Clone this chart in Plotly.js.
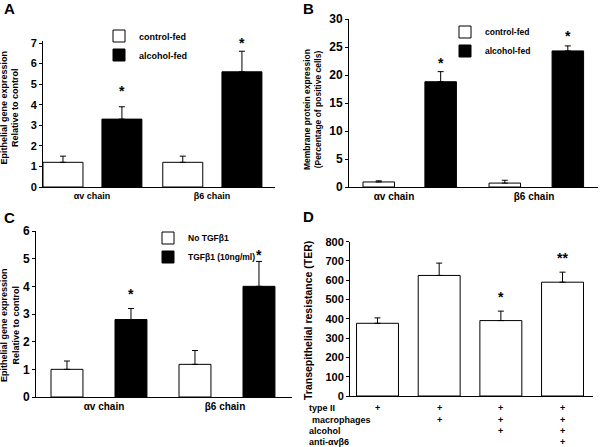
<!DOCTYPE html>
<html>
<head>
<meta charset="utf-8">
<script src="https://cdn.plot.ly/plotly-3.0.1.min.js"></script>
<style>html,body{margin:0;padding:0;background:#fff}#chart{width:600px;height:447px}</style>
</head>
<body>
<div id="chart"></div>
<script>
// ---------- data ----------
const chainCats = ['αv chain', 'β6 chain'];

// Panel A
const aControl = [1.2, 1.2];
const aControlErr = [0.3, 0.3];
const aAlcohol = [3.3, 5.6];
const aAlcoholErr = [0.6, 1.0];
const aStarY = [4.72, 7.03];

// Panel B
const bControl = [0.9, 0.7];
const bControlErr = [0.2, 0.5];
const bAlcohol = [18.8, 24.3];
const bAlcoholErr = [1.8, 0.9];
const bStarY = [22.4, 27.1];

// Panel C
const cNoTgf = [1.0, 1.18];
const cNoTgfErr = [0.3, 0.5];
const cTgf = [2.8, 4.0];
const cTgfErr = [0.4, 0.9];
const cStarY = [3.75, 5.17];

// Panel D
const dCats = ['I', 'II', 'III', 'IV'];
const dTer = [377, 625, 391, 590];
const dTerErr = [28, 64, 49, 52];
const dStars = ['', '', '*', '**'];
const dStarY = [null, null, 521, 720];
const dRows = ['type II', ' macrophages', 'alcohol', 'anti-αvβ6'];
const dFlags = [
  [1, 1, 1, 1],
  [0, 1, 1, 1],
  [0, 0, 1, 1],
  [0, 0, 0, 1]
];

// ---------- style ----------
const FAM = 'Liberation Sans, Arial, Helvetica, sans-serif';
const W = 600, H = 447;
const px = v => v / W;
const py = v => (H - v) / H;
const bold = (size) => ({family: FAM, size: size, color: '#000', weight: 'bold'});

function errUp(arr) {
  return {type: 'data', array: arr, arrayminus: arr.map(() => 0), symmetric: false,
          color: '#000', thickness: 1, width: 3};
}
function barTrace(x, y, err, fill, name, xa, ya, width, offset, legend, show) {
  return {type: 'bar', x: x, y: y, name: name, xaxis: xa, yaxis: ya,
    width: width, offset: offset,
    marker: {color: fill, line: {color: '#000', width: 1}},
    error_y: errUp(err), legend: legend, showlegend: show, hoverinfo: 'skip'};
}

function xAxis(domain, range, anchor, showLabels, fs) {
  return {domain: domain, range: range, anchor: anchor, type: 'category',
    showline: true, linecolor: '#000', linewidth: 1, ticks: '', showgrid: false, zeroline: false,
    showticklabels: showLabels, tickfont: bold(fs), fixedrange: true};
}
function yAxis(domain, range, dtick, anchor, fs) {
  return {domain: domain, range: range, dtick: dtick, tick0: 0, anchor: anchor,
    showline: true, linecolor: '#000', linewidth: 1, ticks: 'outside', ticklen: 3, tickwidth: 1,
    tickcolor: '#000', showgrid: false, zeroline: false, tickfont: bold(fs), fixedrange: true};
}

const xaxis = xAxis([px(43), px(275)], [-0.408, 1.525], 'y', true, 9);
const xaxis2 = xAxis([px(349), px(598)], [-0.321, 1.457], 'y2', true, 10);
const xaxis3 = xAxis([px(36), px(292)], [-0.562, 1.554], 'y3', true, 10);
const xaxis4 = xAxis([px(350), px(593)], [-0.446, 3.494], 'y4', false, 9);

const traces = [
  barTrace(chainCats, aControl, aControlErr, '#fff', 'control-fed', 'x', 'y', 0.333, [-0.408, -0.41], 'legend', true),
  barTrace(chainCats, aAlcohol, aAlcoholErr, '#000', 'alcohol-fed', 'x', 'y', 0.333, [0.083, 0.083], 'legend', true),
  barTrace(chainCats, bControl, bControlErr, '#fff', 'control-fed', 'x2', 'y2', 0.225, [-0.221, -0.321], 'legend2', true),
  barTrace(chainCats, bAlcohol, bAlcoholErr, '#000', 'alcohol-fed', 'x2', 'y2', 0.225, [0.221, 0.129], 'legend2', true),
  barTrace(chainCats, cNoTgf, cNoTgfErr, '#fff', 'No TGFβ1', 'x3', 'y3', 0.264, [-0.438, -0.380], 'legend3', true),
  barTrace(chainCats, cTgf, cTgfErr, '#000', 'TGFβ1 (10ng/ml)', 'x3', 'y3', 0.264, [0.091, 0.149], 'legend3', true),
  barTrace(dCats, dTer, dTerErr, '#fff', 'TER', 'x4', 'y4', 0.68, -0.34, 'legend', false)
];

const annotations = [];
// significance stars, centred on the bar of the trace they belong to
function starsFor(trace, ax, starY, xa, ya) {
  const pxUnit = (ax.domain[1] - ax.domain[0]) * W / (ax.range[1] - ax.range[0]);
  trace.x.forEach((c, i) => {
    const off = Array.isArray(trace.offset) ? trace.offset[i] : trace.offset;
    annotations.push({xref: xa, yref: ya, x: c, y: starY[i], text: '*', showarrow: false,
      font: bold(14), yanchor: 'middle', xanchor: 'center', yshift: -1,
      xshift: (off + trace.width / 2) * pxUnit});
  });
}
starsFor(traces[1], xaxis, aStarY, 'x', 'y');
starsFor(traces[3], xaxis2, bStarY, 'x2', 'y2');
starsFor(traces[5], xaxis3, cStarY, 'x3', 'y3');
dCats.forEach((c, i) => {
  if (dStars[i]) annotations.push({xref: 'x4', yref: 'y4', x: c, y: dStarY[i], text: dStars[i],
    showarrow: false, font: bold(14), yanchor: 'middle', xanchor: 'center', yshift: -1});
});

function ytitle(x, y, text, fs) {
  annotations.push({xref: 'paper', yref: 'paper', x: px(x), y: py(y), text: text, textangle: -90,
    showarrow: false, font: bold(fs), xanchor: 'center', yanchor: 'middle', align: 'center'});
}
ytitle(9.5, 108, 'Epithelial gene expression<br>Relative to control', 9);
ytitle(312, 110, 'Membrane protein expression<br>(Percentage of positive cells)', 8.5);
ytitle(10, 325, 'Epithelial gene expression<br>Relative to control', 9);
ytitle(308, 321, 'Transepithelial resistance (TER)', 10.5);

function letter(x, y, t) {
  annotations.push({xref: 'paper', yref: 'paper', x: px(x), y: py(y), text: t, showarrow: false,
    font: bold(15), xanchor: 'center', yanchor: 'middle'});
}
letter(9, 9, 'A'); letter(308, 9, 'B'); letter(9, 217, 'C'); letter(308, 216, 'D');

// condition table under panel D
const rowY = [408, 420, 431, 442];
dRows.forEach((r, i) => {
  annotations.push({xref: 'paper', yref: 'paper', x: px(307), y: py(rowY[i]), text: r.trim(),
    showarrow: false, font: bold(9), xanchor: 'left', yanchor: 'middle',
    xshift: r.startsWith(' ') ? 3 : 0});
  dFlags[i].forEach((f, j) => {
    if (f) annotations.push({xref: 'x4', yref: 'paper', x: dCats[j], y: py(rowY[i]), text: '+',
      showarrow: false, font: bold(9), xanchor: 'center', yanchor: 'middle'});
  });
});

const legendBase = {bgcolor: 'rgba(0,0,0,0)', borderwidth: 0,
  xanchor: 'left', yanchor: 'top', tracegroupgap: 0, itemwidth: 30};

// A: extra headroom so the star above the β6 bar stays visible; 7 still sits at y=43px
const aTop = 187 - 7.1 * (144 / 7);

const layout = {
  width: W, height: H, margin: {l: 0, r: 0, t: 0, b: 0},
  paper_bgcolor: '#fff', plot_bgcolor: 'rgba(0,0,0,0)',
  barmode: 'overlay', showlegend: true,
  font: {family: FAM, color: '#000'},
  xaxis: xaxis,
  yaxis: yAxis([py(187), py(aTop)], [0, 7.1], 1, 'x', 11),
  xaxis2: xaxis2,
  yaxis2: yAxis([py(187), py(19)], [0, 30], 5, 'x2', 12),
  xaxis3: xaxis3,
  yaxis3: yAxis([py(397), py(231)], [0, 6], 1, 'x3', 12),
  xaxis4: xaxis4,
  yaxis4: yAxis([py(396), py(241.7)], [0, 800], 100, 'x4', 11),
  legend: Object.assign({}, legendBase, {font: bold(9), x: px(99), y: py(21.5)}),
  legend2: Object.assign({}, legendBase, {font: bold(8.5), x: px(445), y: py(17.5)}),
  legend3: Object.assign({}, legendBase, {font: bold(8.5), x: px(148), y: py(223.5)}),
  annotations: annotations
};

Plotly.newPlot('chart', traces, layout, {staticPlot: true, displayModeBar: false});
</script>
</body>
</html>
